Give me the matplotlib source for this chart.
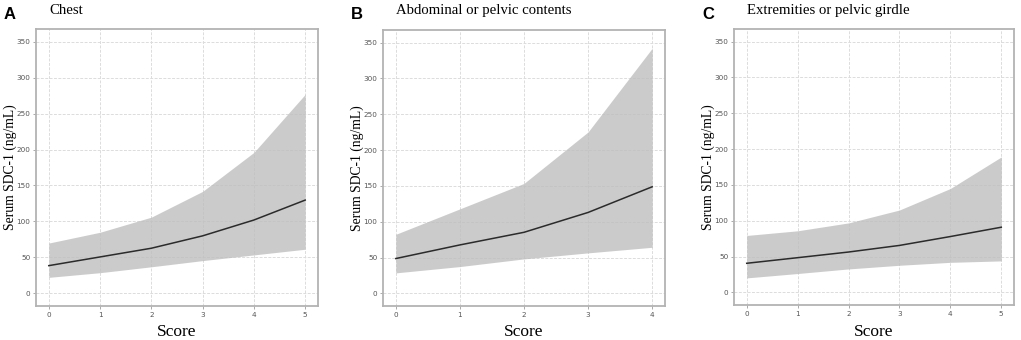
"""
Serum SDC-1 predicted by injury score, three body regions (ribbon + mean line).
"""

import matplotlib.pyplot as plt

# ---------------------------------------------------------------------------
# Data
# ---------------------------------------------------------------------------

panel_letters = ["A", "B", "C"]
panel_titles = ["Chest", "Abdominal or pelvic contents", "Extremities or pelvic girdle"]

chest_score = [0, 1, 2, 3, 4, 5]
chest_mean = [38.6, 50.7, 62.8, 80.0, 102.0, 129.7]
chest_lower = [22.3, 28.8, 37.0, 45.6, 53.5, 61.4]
chest_upper = [70.0, 85.0, 106.0, 141.8, 196.0, 276.6]

abdo_score = [0, 1, 2, 3, 4]
abdo_mean = [48.7, 67.7, 85.3, 113.0, 148.8]
abdo_lower = [28.7, 37.5, 48.2, 56.6, 64.4]
abdo_upper = [82.5, 118.0, 153.5, 225.3, 342.0]

extr_score = [0, 1, 2, 3, 4, 5]
extr_mean = [40.7, 48.5, 56.4, 65.6, 78.0, 91.0]
extr_lower = [20.3, 26.4, 32.8, 37.9, 42.0, 44.0]
extr_upper = [79.5, 86.0, 97.0, 115.0, 145.0, 189.0]

y_ticks = [0, 50, 100, 150, 200, 250, 300, 350]

panels = [
    (chest_score, chest_mean, chest_lower, chest_upper),
    (abdo_score, abdo_mean, abdo_lower, abdo_upper),
    (extr_score, extr_mean, extr_lower, extr_upper),
]

# axes boxes in pixels (left, right, top, bottom) on a 1021x340 canvas
W, H = 1021, 340
boxes = [(36, 318, 29, 306), (383, 665, 30, 306), (734, 1014, 29, 305)]

SERIF = ["Liberation Serif", "DejaVu Serif"]

fig = plt.figure(figsize=(W / 100, H / 100), dpi=100)

for i, ((score, mean, lower, upper), (l, r, t, b)) in enumerate(zip(panels, boxes)):
    ax = fig.add_axes([l / W, 1 - b / H, (r - l) / W, (b - t) / H])
    ax.set_facecolor("white")

    ax.fill_between(score, lower, upper, color="#bdbdbd", alpha=0.78,
                    linewidth=0, zorder=2)
    ax.plot(score, mean, color="#2b2b2b", linewidth=1.1, zorder=3)

    xmax = max(score)
    ax.set_xlim(-0.05 * xmax, 1.05 * xmax)
    ax.set_ylim(-17.5, 367.5)
    ax.set_xticks(score)
    ax.set_yticks(y_ticks)
    ax.tick_params(labelsize=5.2, labelcolor="#555555", color="#888888",
                   length=2, width=0.5, pad=2)
    ax.grid(True, color="#dcdcdc", linestyle=(0, (3, 1.5)), linewidth=0.7,
            zorder=1)
    ax.set_axisbelow(True)
    for sp in ax.spines.values():
        sp.set_color("#b3b3b3")
        sp.set_linewidth(1.3)

    ax.set_xlabel("Score", fontsize=12.5, family=SERIF, labelpad=5)
    ax.set_ylabel("Serum SDC-1 (ng/mL)", fontsize=9.8, family=SERIF)
    ax.yaxis.set_label_coords(-19 / (r - l), 0.5)

    # panel letter and title
    fig.text((l - 32) / W, 1 - 19 / H, panel_letters[i], fontsize=12,
             fontweight="bold", family="Liberation Sans", va="baseline")
    fig.text((l + 13) / W, 1 - 14 / H, panel_titles[i], fontsize=10.6,
             family=SERIF, va="baseline")

fig.savefig("out.png", dpi=100)
